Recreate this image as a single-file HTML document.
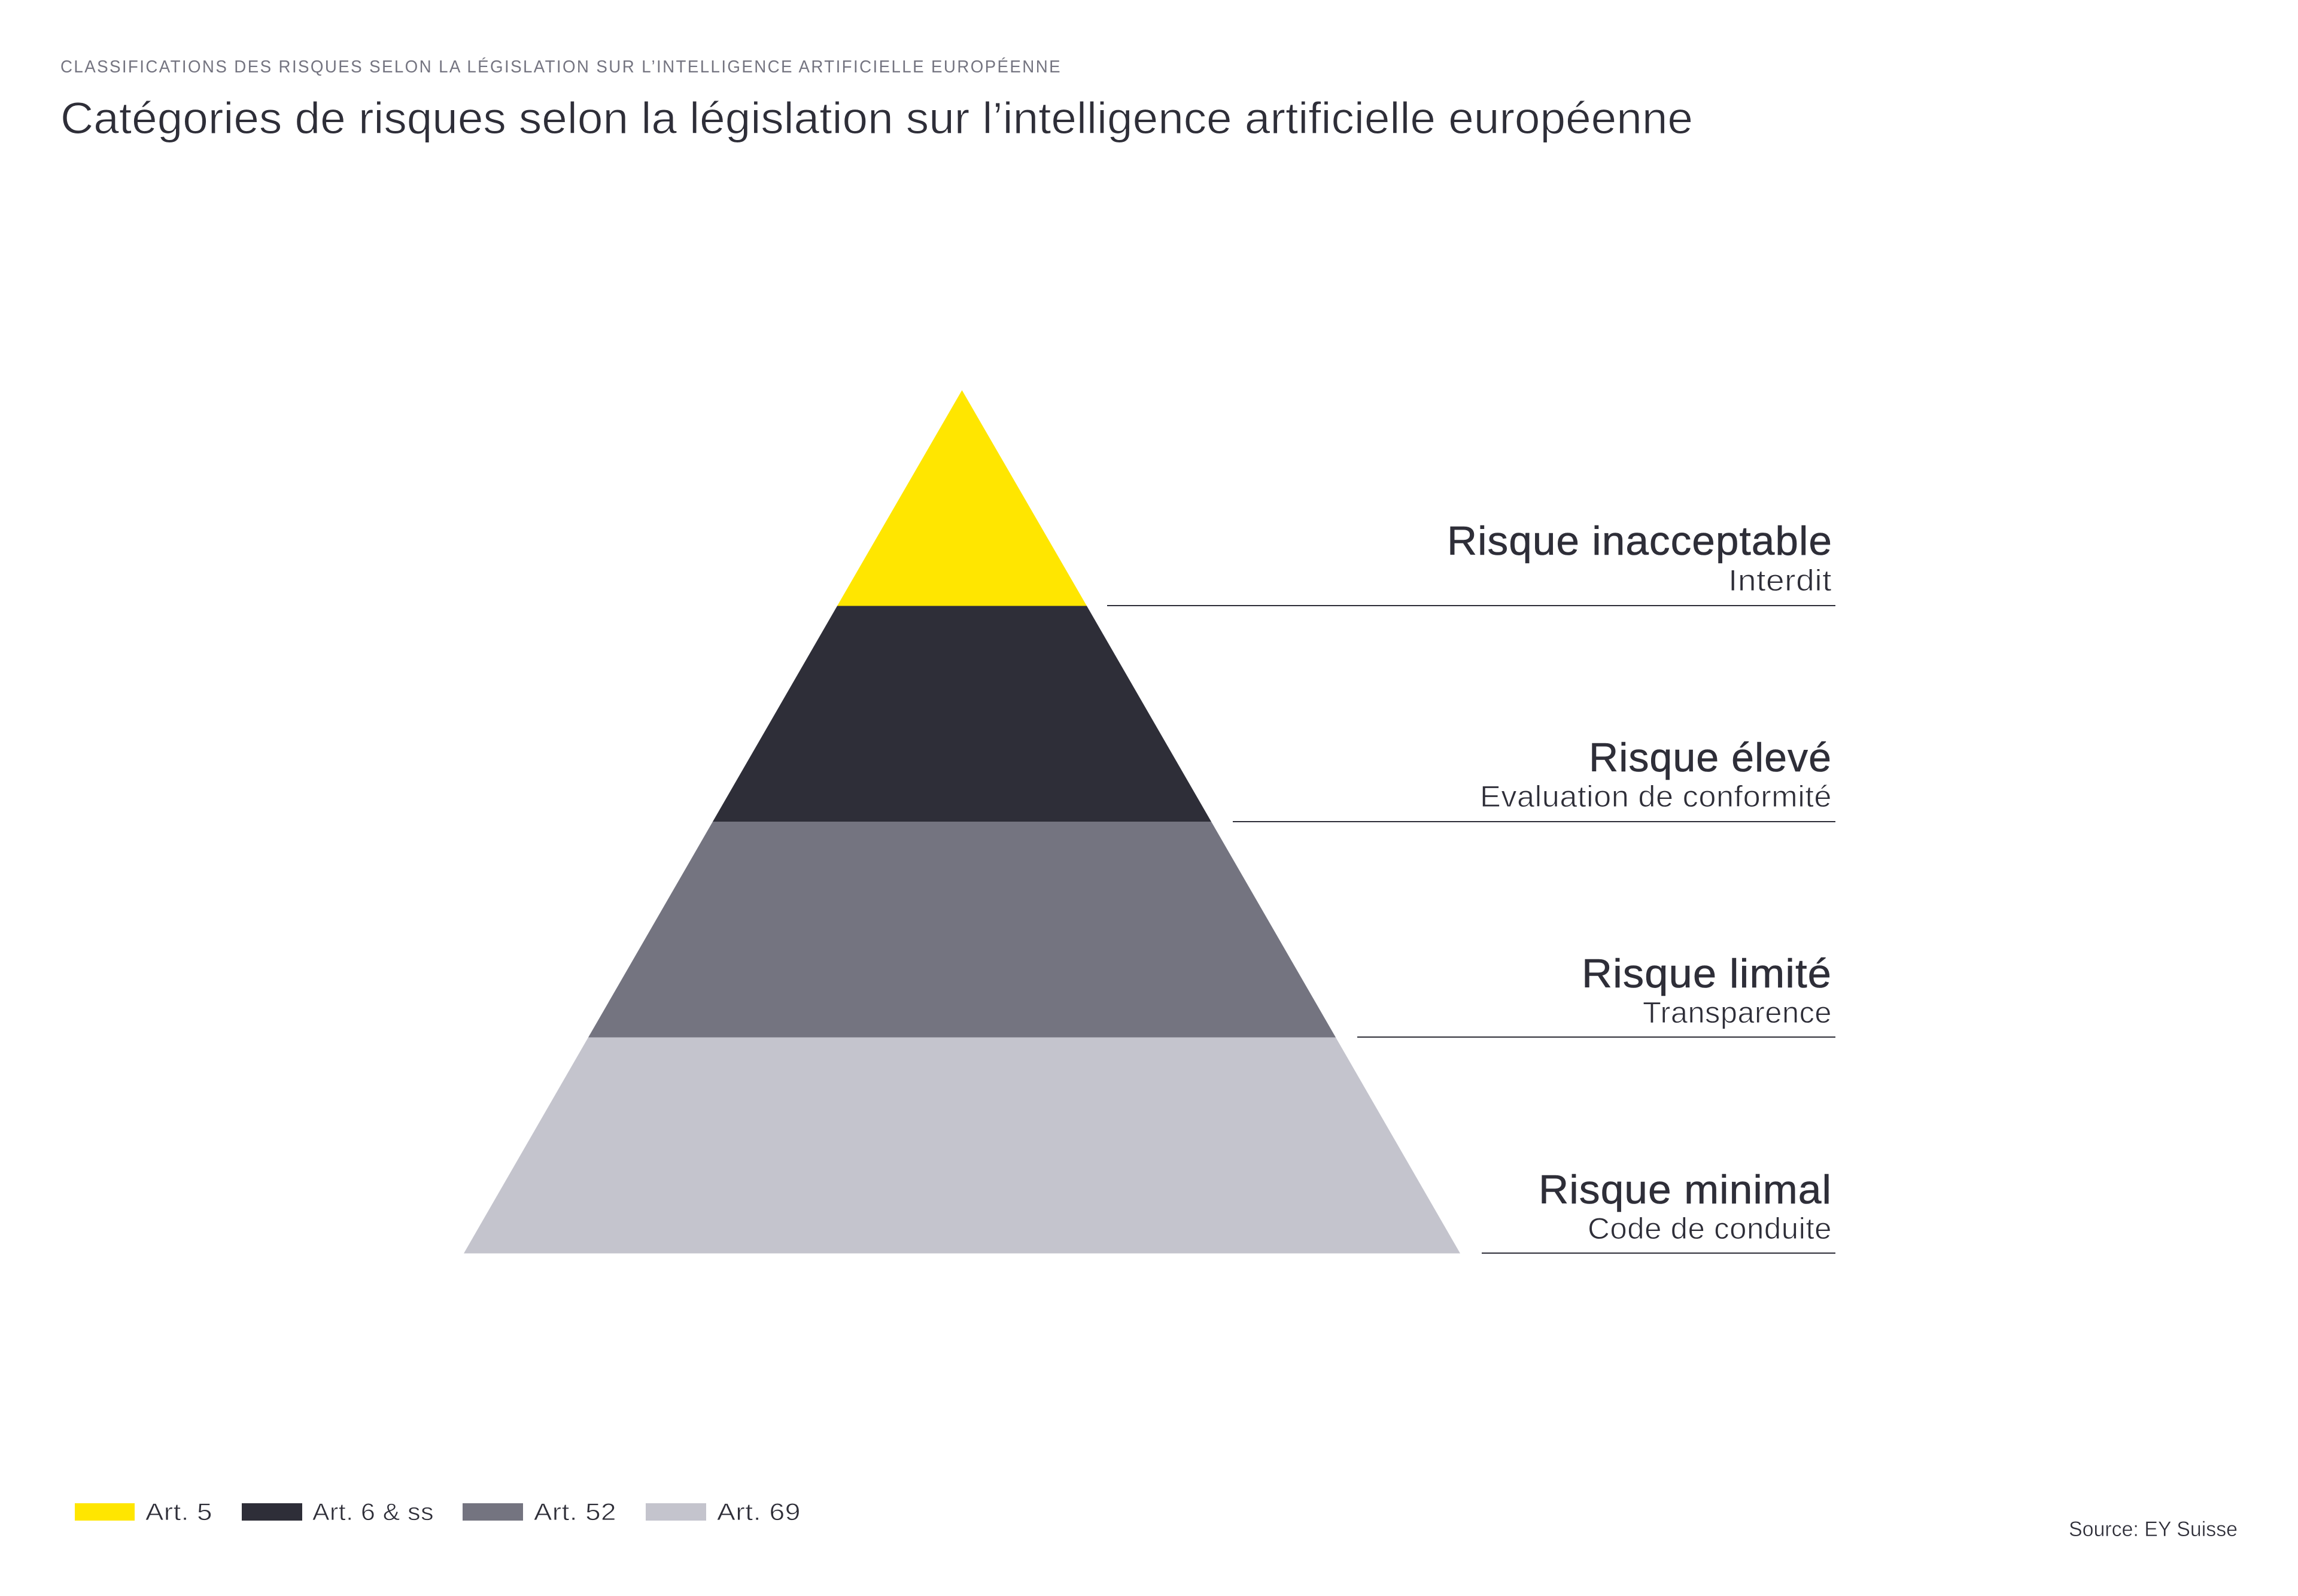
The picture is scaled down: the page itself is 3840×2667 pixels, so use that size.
<!DOCTYPE html>
<html lang="fr">
<head>
<meta charset="utf-8">
<title>Catégories de risques</title>
<style>
html,body{margin:0;padding:0;background:#fff;width:3840px;height:2667px;overflow:hidden}
svg{display:block}
text{font-family:"Liberation Sans",Arial,sans-serif;fill:#2E2E38}
.h{font-size:68px;stroke:#2E2E38;stroke-width:.6px;letter-spacing:1px}
.s{font-size:50px;stroke:#fff;stroke-width:.9px;letter-spacing:.5px}
.l{font-size:40px;stroke:#fff;stroke-width:.7px;letter-spacing:.5px}
</style>
</head>
<body>
<svg xmlns="http://www.w3.org/2000/svg" width="3840" height="2667" viewBox="0 0 3840 2667">
<rect width="3840" height="2667" fill="#fff"/>

<text x="101" y="121" font-size="29" letter-spacing="2.5" style="fill:#747480" textLength="1673" lengthAdjust="spacingAndGlyphs">CLASSIFICATIONS DES RISQUES SELON LA LÉGISLATION SUR L’INTELLIGENCE ARTIFICIELLE EUROPÉENNE</text>
<text x="101" y="223" font-size="74" textLength="2728" lengthAdjust="spacingAndGlyphs" stroke="#fff" stroke-width="1">Catégories de risques selon la législation sur l’intelligence artificielle européenne</text>

<polygon points="1607.5,652 1816,1012.5 1399,1012.5" fill="#FFE600"/>
<polygon points="1399,1012.5 1816,1012.5 2024,1373 1191,1373" fill="#2E2E38"/>
<polygon points="1191,1373 2024,1373 2232,1733.5 983,1733.5" fill="#747480"/>
<polygon points="983,1733.5 2232,1733.5 2440,2094.5 775,2094.5" fill="#C4C4CD"/>

<rect x="1850" y="1011" width="1217" height="2" fill="#2E2E38"/>
<rect x="2060" y="1372" width="1007" height="2" fill="#2E2E38"/>
<rect x="2268" y="1732" width="799" height="2" fill="#2E2E38"/>
<rect x="2476" y="2093" width="591" height="2" fill="#2E2E38"/>

<text class="h" x="2418" y="927" textLength="644" lengthAdjust="spacingAndGlyphs">Risque inacceptable</text>
<text class="s" x="2888" y="987" textLength="173" lengthAdjust="spacingAndGlyphs">Interdit</text>

<text class="h" x="2655" y="1289" textLength="406" lengthAdjust="spacingAndGlyphs">Risque élevé</text>
<text class="s" x="2473" y="1348" textLength="588" lengthAdjust="spacingAndGlyphs">Evaluation de conformité</text>

<text class="h" x="2643" y="1650" textLength="418" lengthAdjust="spacingAndGlyphs">Risque limité</text>
<text class="s" x="2745" y="1709" textLength="316" lengthAdjust="spacingAndGlyphs">Transparence</text>

<text class="h" x="2571" y="2011" textLength="490" lengthAdjust="spacingAndGlyphs">Risque minimal</text>
<text class="s" x="2653" y="2070" textLength="408" lengthAdjust="spacingAndGlyphs">Code de conduite</text>

<rect x="125" y="2512" width="100" height="29" fill="#FFE600"/>
<text class="l" x="243" y="2540" textLength="112" lengthAdjust="spacingAndGlyphs">Art. 5</text>
<rect x="404" y="2512" width="101" height="29" fill="#2E2E38"/>
<text class="l" x="522" y="2540" textLength="203" lengthAdjust="spacingAndGlyphs">Art. 6 &amp; ss</text>
<rect x="773" y="2512" width="101" height="29" fill="#747480"/>
<text class="l" x="892" y="2540" textLength="138" lengthAdjust="spacingAndGlyphs">Art. 52</text>
<rect x="1079" y="2512" width="101" height="29" fill="#C4C4CD"/>
<text class="l" x="1198" y="2540" textLength="140" lengthAdjust="spacingAndGlyphs">Art. 69</text>

<text x="3457" y="2567" font-size="35" textLength="282" lengthAdjust="spacingAndGlyphs" stroke="#fff" stroke-width=".5">Source: EY Suisse</text>
</svg>
</body>
</html>
